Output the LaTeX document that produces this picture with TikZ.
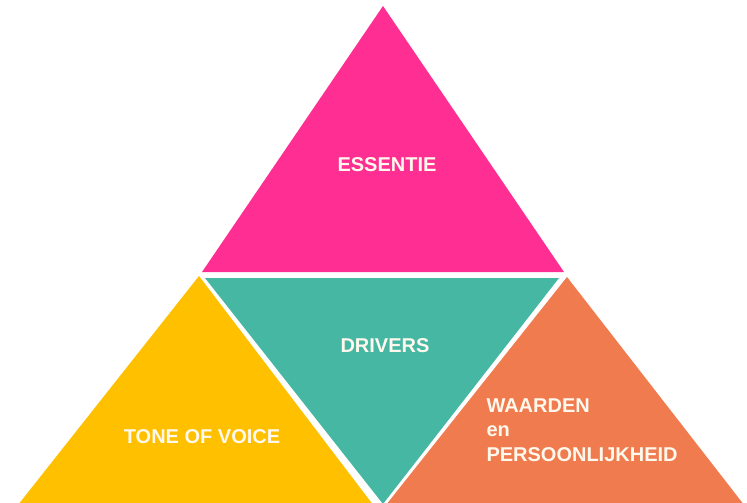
\documentclass[tikz,border=0pt]{standalone}
\usepackage{fontspec}
\setmainfont{Liberation Sans}
\definecolor{essentiePink}{RGB}{255,46,146}
\definecolor{driversTeal}{RGB}{70,183,163}
\definecolor{toneYellow}{RGB}{255,192,0}
\definecolor{waardenOrange}{RGB}{239,123,79}
\definecolor{labelCream}{RGB}{255,248,236}
\tikzset{every picture/.style={line width=0.75pt}}
\tikzset{pyrlabel/.style={inner sep=0.75pt,text=labelCream,font=\fontsize{15}{18.75}\selectfont\bfseries}}

\begin{document}
\begin{tikzpicture}[x=0.75pt,y=0.75pt,yscale=-1,xscale=1]
	%set diagram to 747 x 503
	\clip (0,0) rectangle (747,503);
	
	%Shape: Triangle [essentie]
	\fill [essentiePink] (383,6) -- (564,272) -- (202,272) -- cycle ;
	%Shape: Triangle [drivers]
	\fill [driversTeal] (205,278) -- (559,278) -- (383,504) -- cycle ;
	%Shape: Triangle [tone of voice]
	\fill [toneYellow] (199,276) -- (377,510) -- (14,510) -- cycle ;
	%Shape: Triangle [waarden]
	\fill [waardenOrange] (567,277) -- (748,510) -- (382,510) -- cycle ;
	
	% Text Node
	\draw (387,165) node [pyrlabel] (essentie) {ESSENTIE};
	% Text Node
	\draw (385,346) node [pyrlabel] (drivers) {DRIVERS};
	% Text Node
	\draw (202,437) node [pyrlabel] (tone) {TONE OF VOICE};
	% Text Node
	\draw (485,430) node [pyrlabel,anchor=west,align=left,font=\fontsize{15}{18.5}\selectfont\bfseries] (waarden) {WAARDEN\\en\\PERSOONLIJKHEID};
	
\end{tikzpicture}
\end{document}
